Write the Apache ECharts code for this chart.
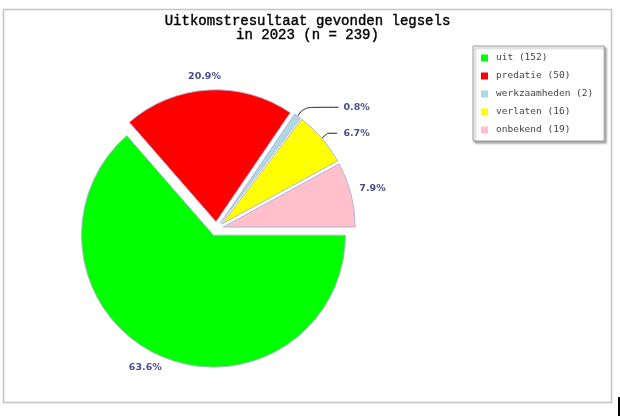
<!DOCTYPE html>
<html>
<head>
<meta charset="utf-8">
<script src="https://cdn.jsdelivr.net/npm/echarts@6/dist/echarts.min.js"></script>
<style>
html,body{margin:0;padding:0;background:#fff;}
#main{width:620px;height:416px;}
</style>
</head>
<body>
<div id="main"></div>
<script>
// ---- data ----
var titleLines = ['Uitkomstresultaat gevonden legsels', 'in 2023 (n = 239)'];
var categories = ['uit', 'predatie', 'werkzaamheden', 'verlaten', 'onbekend'];
var counts = [152, 50, 2, 16, 19];
var palette = ['#00ff00', '#ff0000', '#add8e6', '#ffff00', '#ffc0cb'];

// ---- label placement (styling, not data) ----
var labelPlacement = [
  { line: false, len: 13,   len2: 0,    dist: -8.4,  smooth: false },
  { line: false, len: 13.4, len2: 0,    dist: -13.6, smooth: false },
  { line: true,  len: 10.8, len2: 34.5, dist: 5,     smooth: 0.4 },
  { line: true,  len: 7.6,  len2: 9.5,  dist: 6.3,   smooth: false },
  { line: false, len: 25,   len2: 0,    dist: -16,   smooth: false }
];

var total = counts.reduce(function (a, b) { return a + b; }, 0);

var pieData = categories.map(function (c, i) {
  var lp = labelPlacement[i];
  return {
    name: c,
    value: counts[i],
    selected: true,
    itemStyle: { color: palette[i] },
    label: { distanceToLabelLine: lp.dist },
    labelLine: { show: lp.line, length: lp.len, length2: lp.len2, smooth: lp.smooth }
  };
});

var chart = echarts.init(document.getElementById('main'), null, { renderer: 'canvas' });
chart.setOption({
  animation: false,
  backgroundColor: '#ffffff',
  graphic: [
    { type: 'rect', shape: { x: 3.5, y: 9.5, width: 608, height: 393 },
      style: { fill: '#ffffff', stroke: '#c4c4c4', lineWidth: 1.5 }, z: -10 },
    { type: 'rect', shape: { x: 618, y: 397, width: 2, height: 19 },
      style: { fill: '#000000' }, z: -10 }
  ],
  title: {
    text: titleLines.join('\n'),
    left: 307.5,
    top: 14,
    padding: 0,
    textAlign: 'center',
    textStyle: {
      fontFamily: 'Liberation Mono',
      fontSize: 14,
      fontWeight: 'normal',
      color: '#000000',
      lineHeight: 14.5,
      textBorderColor: '#000000',
      textBorderWidth: 0.4
    }
  },
  legend: {
    orient: 'vertical',
    left: 473,
    top: 46,
    padding: [6, 11, 5, 8],
    itemWidth: 7,
    itemHeight: 7,
    itemGap: 6,
    icon: 'rect',
    itemStyle: { borderWidth: 0 },
    backgroundColor: '#ffffff',
    borderColor: '#9a9a9a',
    borderWidth: 1,
    shadowColor: 'rgba(0,0,0,0.35)',
    shadowBlur: 2,
    shadowOffsetX: 2,
    shadowOffsetY: 2,
    formatter: function (name) {
      var i = categories.indexOf(name);
      return name + ' (' + counts[i] + ')';
    },
    textStyle: {
      fontFamily: 'DejaVu Sans Mono',
      fontSize: 9.5,
      color: '#444444',
      lineHeight: 12,
      padding: [0, 0, 0, 3]
    },
    selectedMode: false,
    data: categories
  },
  series: [{
    type: 'pie',
    center: [216.4, 228.8],
    radius: 132,
    startAngle: 0,
    clockwise: true,
    selectedMode: 'multiple',
    selectedOffset: 7,
    avoidLabelOverlap: false,
    emphasis: { disabled: true },
    select: { itemStyle: { borderColor: '#b6b6d6', borderWidth: 1 } },
    itemStyle: { borderColor: '#b6b6d6', borderWidth: 1 },
    label: {
      show: true,
      position: 'outside',
      color: '#4b4b8f',
      fontFamily: 'DejaVu Sans',
      fontSize: 9.5,
      fontWeight: 'bold',
      formatter: function (p) {
        return (p.value / total * 100).toFixed(1) + '%';
      }
    },
    labelLine: { lineStyle: { color: '#222222', width: 1 } },
    data: pieData
  }]
});
</script>
</body>
</html>
